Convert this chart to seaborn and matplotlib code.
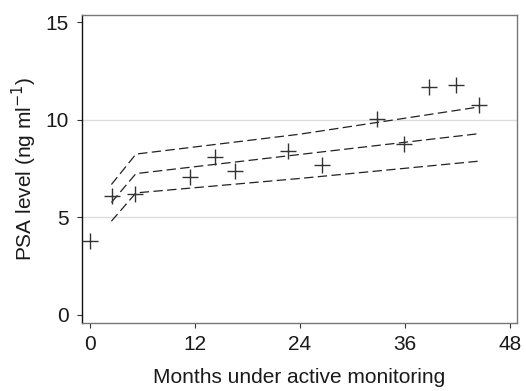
import matplotlib
matplotlib.use("Agg")
import matplotlib.pyplot as plt
import seaborn as sns
import pandas as pd

months = [0, 2.55, 5.2, 11.5, 14.3, 16.6, 22.7, 26.5, 32.8, 35.9, 38.8, 41.8, 44.5]
psa = [3.76, 6.10, 6.18, 7.07, 8.10, 7.36, 8.39, 7.67, 10.05, 8.75, 11.69, 11.77, 10.78]

fit_months = [2.5, 5.3, 24.0, 44.5]
fit_upper = [6.68, 8.24, 9.26, 10.66]
fit_middle = [5.76, 7.24, 8.22, 9.29]
fit_lower = [4.80, 6.25, 6.99, 7.88]

x_ticks = [0, 12, 24, 36, 48]
y_ticks = [0, 5, 10, 15]

sns.set_theme(style="white")
plt.rcParams['font.family'] = ['Liberation Sans', 'DejaVu Sans']

fig = plt.figure(figsize=(5.26, 3.91), dpi=100)
ax = fig.add_axes([0.156, 0.174, 0.827, 0.788])

for yv in [5, 10]:
    ax.axhline(yv, color='#dddddd', lw=1.0, zorder=0)

df_pts = pd.DataFrame({"m": months, "p": psa})
sns.scatterplot(data=df_pts, x="m", y="p", marker="+", s=120, color="#333333",
                linewidth=1.0, ax=ax, zorder=3)

for ys in [fit_upper, fit_middle, fit_lower]:
    d = pd.DataFrame({"m": fit_months, "p": ys})
    sns.lineplot(data=d, x="m", y="p", color="#222222", lw=0.9, ax=ax,
                 linestyle=(0, (7.5, 3.5)), estimator=None, sort=False)

ax.set_xlim(-0.85, 48.8)
ax.set_ylim(-0.42, 15.38)
ax.set_xticks(x_ticks)
ax.set_yticks(y_ticks)
ax.tick_params(axis='both', which='both', labelsize=15, length=3.5, width=0.8,
               color='#333333', labelcolor='#1a1a1a', direction='out',
               bottom=True, left=True)
ax.tick_params(axis='y', pad=6)
ax.tick_params(axis='x', pad=5)
ax.set_xlabel("Months under active monitoring", fontsize=15, color='#1a1a1a', labelpad=10)
ax.set_ylabel("PSA level (ng ml$^{-1}$)", fontsize=15, color='#1a1a1a', labelpad=5)

ax.spines['left'].set_color('#111111')
for s in ['bottom', 'top', 'right']:
    ax.spines[s].set_color('#777777')
for s in ax.spines.values():
    s.set_linewidth(1.0)
    s.set_visible(True)

fig.savefig("out.png", dpi=100)
